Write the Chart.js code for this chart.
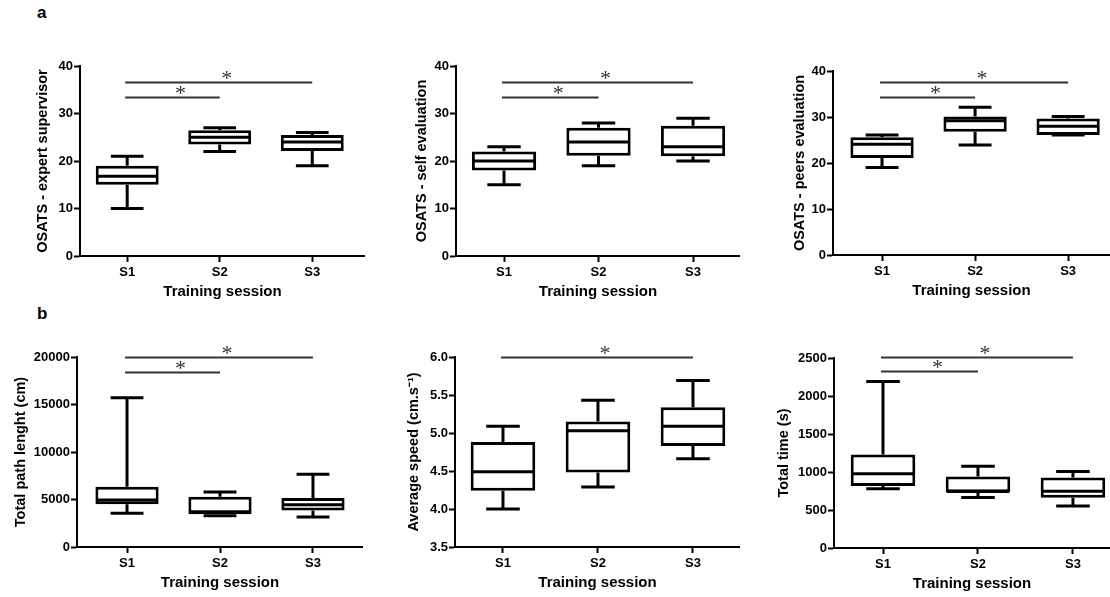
<!DOCTYPE html>
<html><head><meta charset="utf-8">
<script src="https://cdn.jsdelivr.net/npm/chart.js@4"></script>
<style>
html,body{margin:0;padding:0;background:#fff;overflow:hidden;width:1110px;height:597px;position:relative;}
canvas{position:absolute;}
.lab{position:absolute;font:bold 17px "Liberation Sans",Arial,sans-serif;color:#000;line-height:20px;}
</style></head><body>
<div class="lab" style="left:37px;top:3px">a</div>
<div class="lab" style="left:37px;top:304px">b</div>
<script>
// ---------- DATA ----------
const categories = ['S1', 'S2', 'S3'];
const xTitle = 'Training session';

// a – OSATS expert supervisor
const expertLo  = [10, 22, 19];
const expertQ1  = [15, 23.5, 22.1];
const expertMed = [16.8, 25, 24];
const expertQ3  = [19, 26.5, 25.5];
const expertHi  = [21, 27, 26];
const expertSig = [36.6, 33.5];

// a – OSATS self evaluation
const selfLo  = [15, 19, 20];
const selfQ1  = [18, 21.1, 21];
const selfMed = [20, 24, 23];
const selfQ3  = [22, 27, 27.4];
const selfHi  = [23, 28, 29];
const selfSig = [36.6, 33.5];

// a – OSATS peers evaluation
const peersLo  = [19, 23.9, 26.1];
const peersQ1  = [21.1, 26.8, 26.1];
const peersMed = [24.1, 29.2, 28];
const peersQ3  = [25.6, 30.1, 29.7];
const peersHi  = [26.1, 32.1, 30.1];
const peersSig = [37.6, 34.3];

// b – Total path length (cm)
const pathLo  = [3550, 3300, 3150];
const pathQ1  = [4500, 3450, 3850];
const pathMed = [4950, 3700, 4450];
const pathQ3  = [6350, 5300, 5150];
const pathHi  = [15700, 5800, 7650];
const pathSig = [20000, 18450];

// b – Average speed (cm.s-1)
const speedLo  = [4.0, 4.29, 4.66];
const speedQ1  = [4.24, 4.48, 4.83];
const speedMed = [4.49, 5.03, 5.09];
const speedQ3  = [4.88, 5.15, 5.34];
const speedHi  = [5.09, 5.43, 5.69];
const speedSig = [6.0];

// b – Total time (s)
const timeLo  = [780, 663, 553];
const timeQ1  = [815, 735, 660];
const timeMed = [978, 745, 748];
const timeQ3  = [1229, 940, 926];
const timeHi  = [2192, 1077, 1008];
const timeSig = [2510, 2325];

// significance comparisons (category index pairs), in the same order as the *Sig levels
const sigPairs = [[0, 2], [0, 1]];

// tick labels
const yTicksOsats = ['0', '10', '20', '30', '40'];
const yTicksPath  = ['0', '5000', '10000', '15000', '20000'];
const yTicksSpeed = ['3.5', '4.0', '4.5', '5.0', '5.5', '6.0'];
const yTicksTime  = ['0', '500', '1000', '1500', '2000', '2500'];

// ---------- LAYOUT (positions / sizes only) ----------
const layout = [
  {left: 34,  top: 30,  w: 331, h: 271, padTop: 36, yW: 46, xmin: 0.49,  xmax: 3.57},
  {left: 413, top: 30,  w: 327, h: 271, padTop: 36, yW: 43, xmin: 0.492, xmax: 3.497},
  {left: 791, top: 30,  w: 319, h: 270, padTop: 41, yW: 42, xmin: 0.473, xmax: 3.45},
  {left: 12,  top: 320, w: 351, h: 272, padTop: 37, yW: 65, xmin: 0.462, xmax: 3.538},
  {left: 405, top: 320, w: 335, h: 272, padTop: 37, yW: 50, xmin: 0.495, xmax: 3.495},
  {left: 775, top: 320, w: 335, h: 273, padTop: 38, yW: 59, xmin: 0.484, xmax: 3.39}
];

const panels = [
  {title: 'OSATS - expert supervisor', lo: expertLo, q1: expertQ1, med: expertMed, q3: expertQ3, hi: expertHi, sig: expertSig, ticks: yTicksOsats},
  {title: 'OSATS - self evaluation',   lo: selfLo,   q1: selfQ1,   med: selfMed,   q3: selfQ3,   hi: selfHi,   sig: selfSig,   ticks: yTicksOsats},
  {title: 'OSATS - peers evaluation',  lo: peersLo,  q1: peersQ1,  med: peersMed,  q3: peersQ3,  hi: peersHi,  sig: peersSig,  ticks: yTicksOsats},
  {title: 'Total path lenght (cm)',    lo: pathLo,   q1: pathQ1,   med: pathMed,   q3: pathQ3,   hi: pathHi,   sig: pathSig,   ticks: yTicksPath},
  {title: 'Average speed (cm.s\u207B\u00B9)', lo: speedLo, q1: speedQ1, med: speedMed, q3: speedQ3, hi: speedHi, sig: speedSig, ticks: yTicksSpeed},
  {title: 'Total time (s)',            lo: timeLo,   q1: timeQ1,   med: timeMed,   q3: timeQ3,   hi: timeHi,   sig: timeSig,   ticks: yTicksTime}
];

const FONT = '"Liberation Sans", Arial, sans-serif';

function boxPlugin(p) {
  return {
    id: 'boxWhiskers',
    afterDatasetsDraw(chart) {
      const {ctx, scales: {x, y}} = chart;
      const meta = chart.getDatasetMeta(0);
      const py = v => y.getPixelForValue(v);
      ctx.save();
      ctx.strokeStyle = '#000';
      ctx.lineWidth = 3;
      ctx.lineCap = 'butt';
      p.lo.forEach((lo, i) => {
        const bar = meta.data[i];
        const cx = bar.x, hw = bar.width / 2, cw = bar.width * 0.26;
        ctx.beginPath();
        ctx.moveTo(cx, py(p.q3[i])); ctx.lineTo(cx, py(p.hi[i]));
        ctx.moveTo(cx - cw, py(p.hi[i])); ctx.lineTo(cx + cw, py(p.hi[i]));
        ctx.moveTo(cx, py(p.q1[i])); ctx.lineTo(cx, py(lo));
        ctx.moveTo(cx - cw, py(lo)); ctx.lineTo(cx + cw, py(lo));
        ctx.moveTo(cx - hw + 1, py(p.med[i])); ctx.lineTo(cx + hw - 1, py(p.med[i]));
        ctx.stroke();
      });
      // significance bars
      ctx.strokeStyle = '#333';
      ctx.fillStyle = '#333';
      ctx.lineWidth = 2;
      ctx.font = '22px "Liberation Serif", "Times New Roman", serif';
      ctx.textAlign = 'center';
      ctx.textBaseline = 'alphabetic';
      p.sig.forEach((lvl, k) => {
        const [a, b] = sigPairs[k];
        const x1 = x.getPixelForValue(a + 1) - 2;
        const x2 = x.getPixelForValue(b + 1);
        const yy = Math.round(py(lvl)) + 0.5;
        ctx.beginPath();
        ctx.moveTo(x1, yy); ctx.lineTo(x2, yy);
        ctx.stroke();
        ctx.fillText('*', (x1 + x2) / 2 + 8, yy + 2);
      });
      ctx.restore();
    }
  };
}

panels.forEach((p, idx) => {
  const L = layout[idx];
  const cv = document.createElement('canvas');
  cv.width = L.w; cv.height = L.h;
  cv.style.left = L.left + 'px'; cv.style.top = L.top + 'px';
  cv.style.width = L.w + 'px'; cv.style.height = L.h + 'px';
  document.body.appendChild(cv);
  const tickVals = p.ticks.map(Number);
  new Chart(cv, {
    type: 'bar',
    data: {
      datasets: [{
        data: categories.map((c, i) => ({x: i + 1, y: [p.q1[i], p.q3[i]]})),
        backgroundColor: '#fff',
        borderColor: '#000',
        borderWidth: 3,
        borderSkipped: false,
        barPercentage: 0.68,
        categoryPercentage: 1
      }]
    },
    options: {
      responsive: false,
      animation: false,
      devicePixelRatio: 1,
      layout: {padding: {top: L.padTop, left: 0, right: 0, bottom: 0}},
      plugins: {legend: {display: false}, tooltip: {enabled: false}},
      scales: {
        x: {
          type: 'linear',
          offset: false,
          min: L.xmin, max: L.xmax,
          afterBuildTicks: s => { s.ticks = categories.map((c, i) => ({value: i + 1})); },
          afterFit: s => { s.height = 45; },
          ticks: {
            callback: (v, i) => categories[i],
            color: '#000', font: {family: FONT, size: 13, weight: 'bold'},
            padding: 3, maxRotation: 0, autoSkip: false
          },
          grid: {offset: false, drawOnChartArea: false, drawTicks: true, tickLength: 6, tickWidth: 2, tickColor: '#000'},
          border: {display: true, color: '#000', width: 2},
          title: {display: true, text: xTitle, color: '#000', font: {family: FONT, size: 15, weight: 'bold'}, padding: 0}
        },
        y: {
          type: 'linear',
          min: tickVals[0], max: tickVals[tickVals.length - 1],
          afterBuildTicks: s => { s.ticks = tickVals.map(v => ({value: v})); },
          afterFit: s => { s.width = L.yW; },
          ticks: {
            callback: (v, i) => p.ticks[i],
            color: '#000', font: {family: FONT, size: 13, weight: 'bold'}, padding: 1
          },
          grid: {drawOnChartArea: false, drawTicks: true, tickLength: 6, tickWidth: 2, tickColor: '#000'},
          border: {display: true, color: '#000', width: 2},
          title: {display: true, text: p.title, color: '#000', font: {family: FONT, size: 14.5, weight: 'bold'}, padding: 0}
        }
      }
    },
    plugins: [boxPlugin(p)]
  });
});
</script>
</body></html>
